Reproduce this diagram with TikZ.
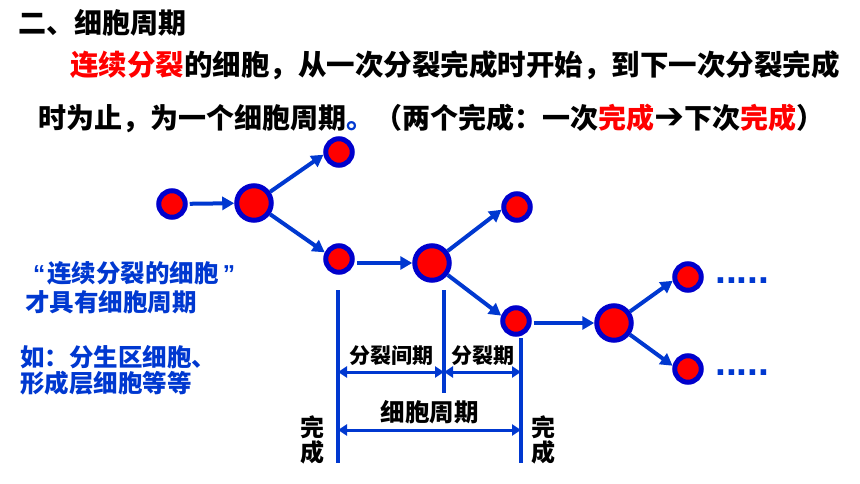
\documentclass[tikz,border=0pt]{standalone}
\usepackage{fontspec}
\setmainfont{Noto Sans CJK SC}
\newfontfamily\latinfont{Liberation Sans}
\newfontfamily\symbolfont{DejaVu Sans}
\usepackage{tikz}
\usetikzlibrary{arrows.meta}
\definecolor{cellblue}{RGB}{0,0,204}
\definecolor{lineblue}{RGB}{0,56,208}
\tikzstyle{cell} = [circle, 
draw=cellblue, 
fill=red, 
line width=5pt, 
inner sep=0pt, 
minimum size=26.5pt]
\tikzstyle{big-cell} = [cell, minimum size=34.5pt]
\tikzstyle{arrow} = [draw=lineblue, line width=4pt, -{Triangle[length=12pt,width=13pt]}]
\tikzstyle{tick-line} = [draw=lineblue, line width=3.5pt]
\tikzstyle{dim-arrow} = [draw=lineblue, line width=3pt, 
{Triangle[length=9pt,width=11pt]}-{Triangle[length=9pt,width=11pt]}]
\tikzstyle{dim-label} = [midway, above=5pt, inner sep=0pt, 
font=\bfseries\fontsize{21}{21}\selectfont]
\tikzstyle{heading} = [anchor=base west, inner sep=0pt, 
font=\bfseries\fontsize{28}{28}\selectfont]
\tikzstyle{note} = [anchor=base west, inner sep=0pt, text=lineblue, 
font=\bfseries\fontsize{24.5}{24.5}\selectfont]
\tikzstyle{done-text} = [align=center, inner sep=0pt, 
font=\bfseries\fontsize{24}{23}\selectfont]
\tikzstyle{more} = [anchor=base west, inner sep=0pt, text=lineblue, 
font=\latinfont\bfseries\fontsize{39}{39}\selectfont]

\begin{document}
\begin{tikzpicture}[x=1pt, y=-1pt]
            \useasboundingbox (0,0) rectangle (860,484);

            % text at the top
            \node (title) [heading] at (18,34) {二、细胞周期};
            \node (define1) [heading, font=\bfseries\fontsize{28.5}{28.5}\selectfont] at (70,76)
                {{\color{red}连续分裂}的细胞，从一次分裂完成时开始，到下一次分裂完成};
            \node (define2) [heading] at (38,129)
                {时为止，为一个细胞周期{\color{lineblue}。}（两个完成：一次{\color{red}完成}{\symbolfont\fontsize{36}{36}\selectfont ➔}下次{\color{red}完成}）};

            % notes on the left
            \node (note1) [note] at (33,282) {{\latinfont “}\kern2pt 连续分裂的细胞\kern4pt{\latinfont ”}};
            \node (note2) [note] at (25,311) {才具有细胞周期};
            \node (note3) [note] at (20,366) {如：分生区细胞、};
            \node (note4) [note] at (20,392) {形成层细胞等等};

            % cells
            \node (cell0) [cell] at (172,204) {};
            \node (split1) [big-cell] at (254,203) {};
            \node (stop1) [cell] at (339,152) {};
            \node (cell1) [cell] at (339,259) {};
            \node (split2) [big-cell] at (432,263) {};
            \node (stop2) [cell] at (517,207) {};
            \node (cell2) [cell] at (516,321) {};
            \node (split3) [big-cell] at (614,323) {};
            \node (next-up) [cell] at (688,277) {};
            \node (next-down) [cell] at (688,369) {};
            \node (more-up) [more] at (715,283) {.....};
            \node (more-down) [more] at (715,375) {.....};

            \draw [arrow, shorten <=2pt] (cell0) -- (split1);
            \draw [arrow] (split1) -- (stop1.190);
            \draw [arrow] (split1) -- (cell1.155);
            \draw [arrow, shorten <=2pt] (cell1.east |- split2) -- (split2);
            \draw [arrow] (split2) -- (stop2.190);
            \draw [arrow] (split2) -- (cell2.160);
            \draw [arrow, shorten <=2pt] (cell2.east |- split3) -- (split3);
            \draw [arrow] (split3) -- (next-up.194);
            \draw [arrow] (split3) -- (next-down.168);

            % time scale
            \coordinate (tickA-top) at (338,290);
            \coordinate (tickA-bottom) at (338,463);
            \coordinate (tickB-top) at (444,290);
            \coordinate (tickB-bottom) at (444,393);
            \coordinate (tickC-top) at (521,338);
            \coordinate (tickC-bottom) at (521,463);
            \coordinate (phase-level) at (0,372);
            \coordinate (cycle-level) at (0,430);

            \draw [tick-line] (tickA-top) -- (tickA-bottom);
            \draw [tick-line] (tickB-top) -- (tickB-bottom);
            \draw [tick-line] (tickC-top) -- (tickC-bottom);

            \draw [dim-arrow] (tickA-top |- phase-level) -- (tickB-top |- phase-level)
                node (interphase) [dim-label] {分裂间期};
            \draw [dim-arrow] (tickB-top |- phase-level) -- (tickC-top |- phase-level)
                node (mitosis) [dim-label] {分裂期};
            \draw [dim-arrow] (tickA-top |- cycle-level) -- (tickC-top |- cycle-level)
                node (cycle) [dim-label, font=\bfseries\fontsize{24.5}{24.5}\selectfont] {细胞周期};

            \node (done-left) [done-text] at (312,440) {完\\成};
            \node (done-right) [done-text] at (543,440) {完\\成};
        \end{tikzpicture}
\end{document}
